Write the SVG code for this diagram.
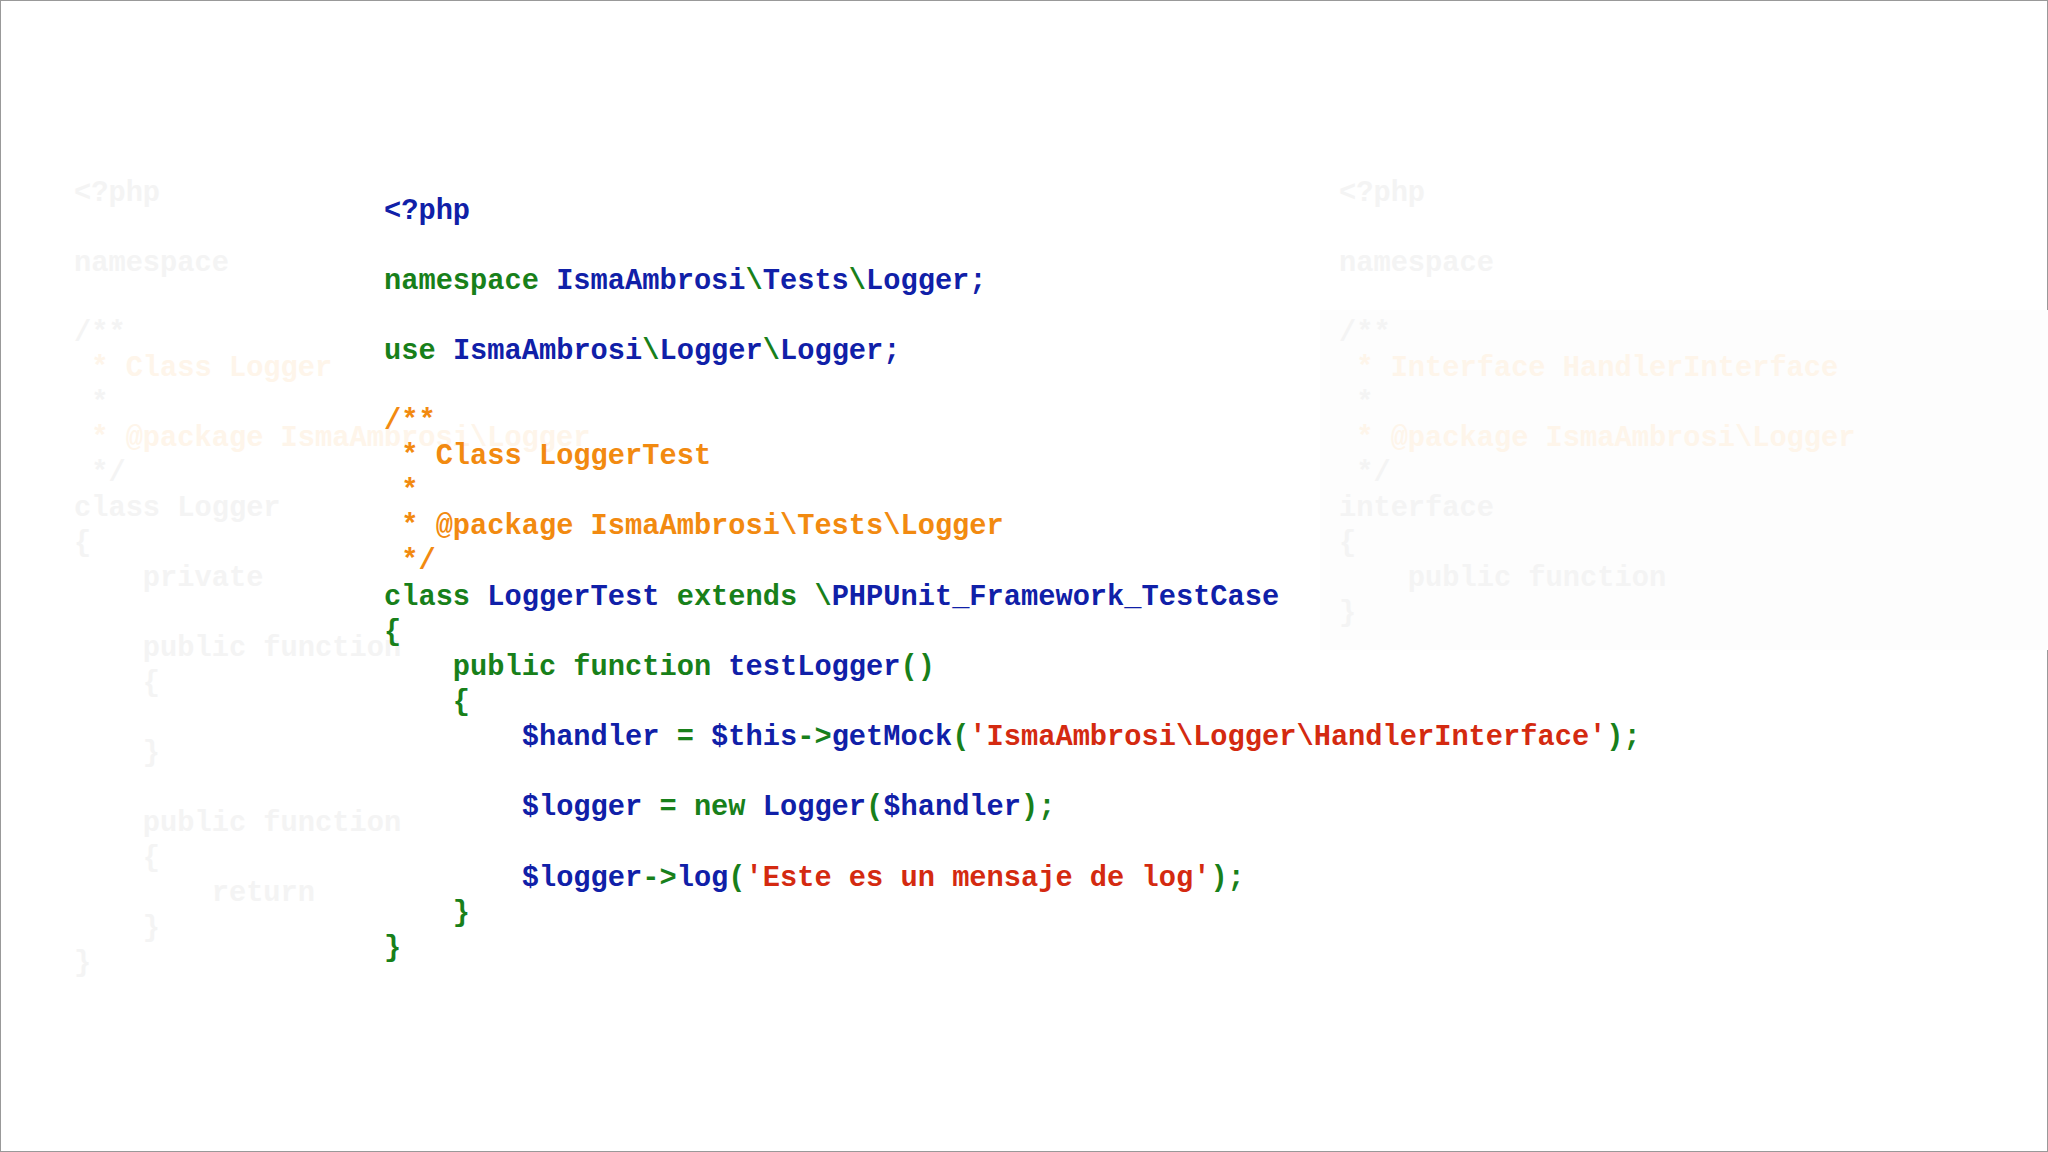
<svg xmlns="http://www.w3.org/2000/svg" width="2048" height="1152" viewBox="0 0 2048 1152">
<style>
text{font-family:"Liberation Mono","Courier New",monospace;font-weight:bold;font-size:28.7px;white-space:pre}
.b{fill:#1020a8}.g{fill:#18801a}.o{fill:#f28a10}.r{fill:#d42a10}
.f{fill:#f4f4f4}.fo{fill:#fef5ea}
</style>
<rect x="0" y="0" width="2048" height="1152" fill="#ffffff"/>
<rect x="0.5" y="0.5" width="2047" height="1151" fill="none" stroke="#999" stroke-width="1"/>
<rect x="1320" y="310" width="728" height="340" fill="#fdfdfd"/>
<g id="bg-left">
<text x="74" y="201" class="f">&lt;?php</text>
<text x="74" y="271" class="f">namespace</text>
<text x="74" y="341" class="f">/**</text>
<text x="74" y="376" class="fo"> * Class Logger</text>
<text x="74" y="411" class="f"> *</text>
<text x="74" y="446" class="fo"> * @package IsmaAmbrosi\Logger</text>
<text x="74" y="481" class="f"> */</text>
<text x="74" y="516" class="f">class Logger</text>
<text x="74" y="551" class="f">{</text>
<text x="74" y="586" class="f">    private</text>
<text x="74" y="656" class="f">    public function</text>
<text x="74" y="691" class="f">    {</text>
<text x="74" y="761" class="f">    }</text>
<text x="74" y="831" class="f">    public function</text>
<text x="74" y="866" class="f">    {</text>
<text x="74" y="901" class="f">        return</text>
<text x="74" y="936" class="f">    }</text>
<text x="74" y="971" class="f">}</text>
</g>
<g id="bg-right">
<text x="1339" y="201" class="f">&lt;?php</text>
<text x="1339" y="271" class="f">namespace</text>
<text x="1339" y="341" class="f">/**</text>
<text x="1339" y="376" class="fo"> * Interface HandlerInterface</text>
<text x="1339" y="411" class="f"> *</text>
<text x="1339" y="446" class="fo"> * @package IsmaAmbrosi\Logger</text>
<text x="1339" y="481" class="f"> */</text>
<text x="1339" y="516" class="f">interface</text>
<text x="1339" y="551" class="f">{</text>
<text x="1339" y="586" class="f">    public function</text>
<text x="1339" y="621" class="f">}</text>
</g>
<g id="code">
<text x="384" y="219" class="b">&lt;?php</text>
<text x="384" y="289"><tspan class="g">namespace </tspan><tspan class="b">IsmaAmbrosi</tspan><tspan class="g">\</tspan><tspan class="b">Tests</tspan><tspan class="g">\</tspan><tspan class="b">Logger;</tspan></text>
<text x="384" y="359"><tspan class="g">use </tspan><tspan class="b">IsmaAmbrosi</tspan><tspan class="g">\</tspan><tspan class="b">Logger</tspan><tspan class="g">\</tspan><tspan class="b">Logger;</tspan></text>
<text x="384" y="429" class="o">/**</text>
<text x="384" y="464" class="o"> * Class LoggerTest</text>
<text x="384" y="499" class="o"> *</text>
<text x="384" y="534" class="o"> * @package IsmaAmbrosi\Tests\Logger</text>
<text x="384" y="569" class="o"> */</text>
<text x="384" y="605"><tspan class="g">class </tspan><tspan class="b">LoggerTest </tspan><tspan class="g">extends \</tspan><tspan class="b">PHPUnit_Framework_TestCase</tspan></text>
<text x="384" y="640" class="g">{</text>
<text x="384" y="675"><tspan class="g">    public function </tspan><tspan class="b">testLogger</tspan><tspan class="g">()</tspan></text>
<text x="384" y="710" class="g">    {</text>
<text x="384" y="745"><tspan class="b">        $handler </tspan><tspan class="g">= </tspan><tspan class="b">$this</tspan><tspan class="g">-&gt;</tspan><tspan class="b">getMock</tspan><tspan class="g">(</tspan><tspan class="r">'IsmaAmbrosi\Logger\HandlerInterface'</tspan><tspan class="g">);</tspan></text>
<text x="384" y="815"><tspan class="b">        $logger </tspan><tspan class="g">= new </tspan><tspan class="b">Logger</tspan><tspan class="g">(</tspan><tspan class="b">$handler</tspan><tspan class="g">);</tspan></text>
<text x="384" y="886"><tspan class="b">        $logger</tspan><tspan class="g">-&gt;</tspan><tspan class="b">log</tspan><tspan class="g">(</tspan><tspan class="r">'Este es un mensaje de log'</tspan><tspan class="g">);</tspan></text>
<text x="384" y="921" class="g">    }</text>
<text x="384" y="956" class="g">}</text>
</g>
</svg>
